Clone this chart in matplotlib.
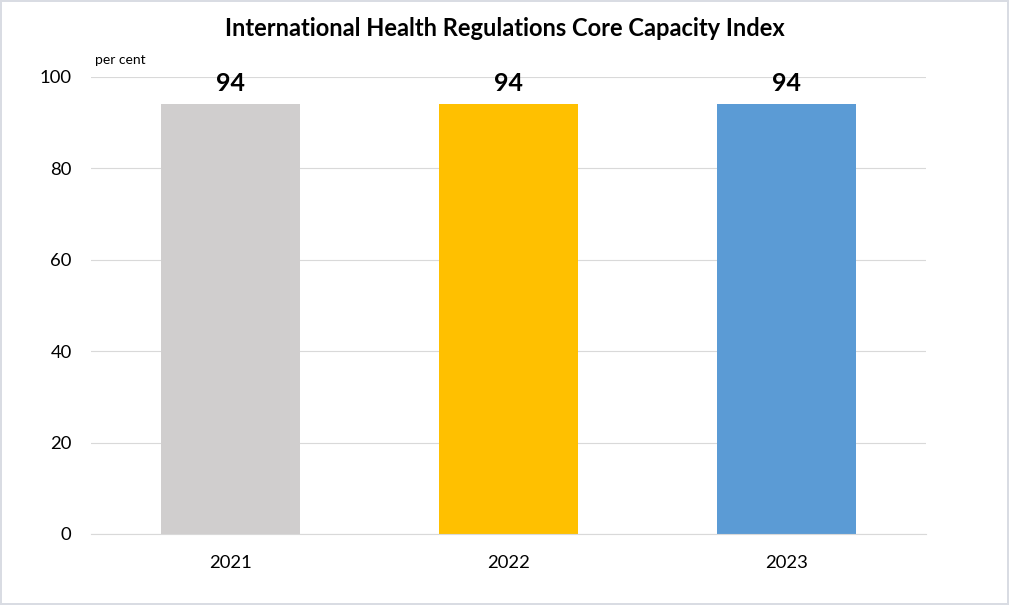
import matplotlib.pyplot as plt

years = ['2021', '2022', '2023']
values = [94, 94, 94]
colors = ['#D0CECE', '#FFC000', '#5B9BD5']
y_ticks = [0, 20, 40, 60, 80, 100]

plt.rcParams['font.family'] = ['Lato', 'DejaVu Sans']

fig = plt.figure(figsize=(10.09, 6.05), dpi=100)
fig.patch.set_edgecolor('#D9DCE3')
fig.patch.set_linewidth(1.5)
ax = fig.add_axes([0.0902, 0.1174, 0.8275, 0.7554])

x = range(len(years))
bars = ax.bar(x, values, width=0.5, color=colors, zorder=2)
for b, v in zip(bars, values):
    ax.annotate(str(v), (b.get_x() + b.get_width() / 2, v), xytext=(0, 7),
                textcoords='offset points', ha='center', va='bottom',
                fontsize=18, fontweight='bold', color='black')

ax.set_xlim(-0.5, 2.5)
ax.set_ylim(0, 100)
ax.set_yticks(y_ticks)
ax.set_xticks(list(x))
ax.set_xticklabels(years)
ax.tick_params(axis='both', length=0, labelsize=13.3, colors='#000000')
ax.tick_params(axis='y', pad=14)
ax.tick_params(axis='x', pad=15)
ax.grid(axis='y', color='#D9D9D9', linewidth=0.8, zorder=0)
for s in ['top', 'right', 'left']:
    ax.spines[s].set_visible(False)
ax.spines['bottom'].set_color('#D9D9D9')

ax.text(0.005, 1.025, 'per cent', transform=ax.transAxes, fontsize=10, ha='left', va='bottom')
fig.text(0.5, 0.953, 'International Health Regulations Core Capacity Index',
         ha='center', va='center', fontsize=17, fontweight='bold')

fig.savefig('out.png', dpi=100, edgecolor=fig.get_edgecolor())
